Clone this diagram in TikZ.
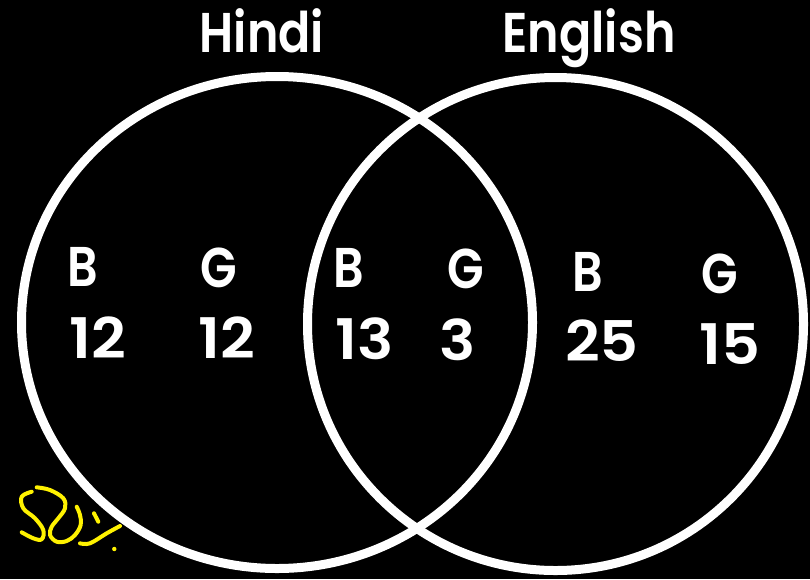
\documentclass[tikz,border=0pt]{standalone}
\usepackage{fontspec}
\newfontfamily\vennfont{Poppins}[FakeStretch=0.85, UprightFont={* SemiBold}]
\newfontfamily\vennnum{Poppins}[FakeStretch=1.08, UprightFont={* SemiBold}]
\usepackage{xcolor}
\usepackage{tikz}

\begin{document}
\begin{tikzpicture}[
    x=1pt, y=-1pt,
    ring/.style={draw=white, line width=9pt},
    title/.style={text=white, inner sep=0pt, anchor=base, font=\vennfont\fontsize{56}{56}\selectfont},
    lbl/.style={text=white, inner sep=0pt, anchor=base, font=\vennfont\fontsize{56}{56}\selectfont},
    count/.style={text=white, inner sep=0pt, anchor=base, font=\vennnum\fontsize{56}{56}\selectfont},
    scribble/.style={draw=yellow, line width=4pt, line cap=round, line join=round}
]
    \useasboundingbox[fill=black] (0,0) rectangle (810,579);

    % sets
    \draw[ring] (277,322.5) ellipse [x radius=255.5, y radius=246];
    \draw[ring] (555.5,324) ellipse [x radius=248, y radius=246.5];

    \node[title] (hindi) at (262,52) {Hindi};
    \node[title] (english) at (589,52) {English};

    % boys / girls
    \node[lbl] (bh) at (83,286) {B};
    \node[lbl] (gh) at (219,287) {G};
    \node[lbl] (bboth) at (349,287) {B};
    \node[lbl] (gboth) at (466,288) {G};
    \node[lbl] (be) at (588,291) {B};
    \node[lbl] (ge) at (720,293) {G};

    \node[count] (nbh) at (98,358) {12};
    \node[count] (ngh) at (227,358) {12};
    \node[count] (nbboth) at (365,359) {13};
    \node[count] (ngboth) at (458,360) {3};
    \node[count] (nbe) at (602,361) {25};
    \node[count] (nge) at (730,364) {15};

    % handwritten note
    \draw[scribble] plot[smooth, tension=0.6] coordinates {(31.7,491.7) (21.7,496.7) (23.3,508.3) (35,518.3) (43.3,530) (41.7,539.3) (33.3,538.3) (21.7,532.3)};
    \draw[scribble] plot[smooth, tension=0.6] coordinates {(36.7,487.3) (50,490) (63.3,498.3) (65,508.3) (58.3,518.3) (51.7,526.7) (50,535) (56.7,541.7) (66.7,541) (75,535) (80.7,525) (80,515) (76.7,506.7)};
    \draw[scribble] (94,513.3) -- (98.3,521.7);
    \draw[scribble] plot[smooth, tension=0.6] coordinates {(80,543.3) (90,543.3) (106.7,533.3) (120,526)};
    \fill[yellow] (114.3,549) circle (2.2);
\end{tikzpicture}
\end{document}
